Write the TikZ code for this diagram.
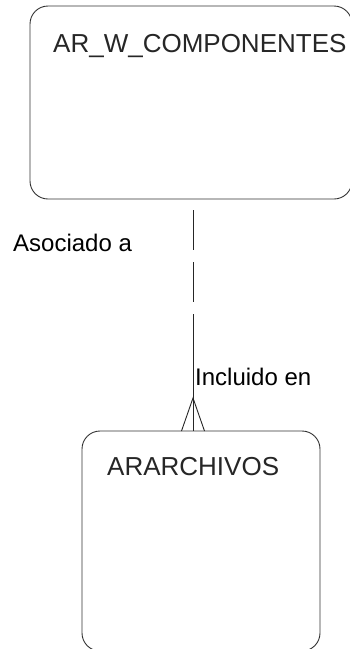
\documentclass[tikz,border=0pt]{standalone}
\usepackage{fontspec}
\setmainfont{Liberation Sans}
\begin{document}
\begin{tikzpicture}[x=1pt,y=-1pt,
  entity/.style={draw=black!80, line width=0.9pt, rounded corners=18pt, inner sep=0pt},
  title/.style={anchor=base west, inner sep=0pt, font=\fontsize{26}{30}\selectfont, text=black!85},
  rel/.style={anchor=base west, inner sep=0pt, font=\fontsize{24}{28}\selectfont, text=black},
  conn/.style={draw=black!85, line width=0.9pt}]
\useasboundingbox (0,0) rectangle (350,649);
\node[entity, minimum width=322pt, minimum height=193pt] (comp) at (191,102.5) {};
\node[entity, minimum width=238pt, minimum height=220pt] (arch) at (201,541) {};
\node[title] (tcomp) at (53,52) {AR\_W\_COMPONENTES};
\node[title] (tarch) at (107,475) {ARARCHIVOS};
\node[rel] (asoc) at (13,251) {Asociado a};
\node[rel] (incl) at (195,385) {Incluido en};
\coordinate (top) at (193,199);
\coordinate (mid) at (193,314);
\coordinate (apex) at (193,398);
\coordinate (bot) at (193,431);
\coordinate (fl) at (181.5,431);
\coordinate (fr) at (204.5,431);
\draw[conn, dash pattern=on 40pt off 12pt, dash phase=41pt] (top) -- (mid);
\draw[conn] (mid) -- (bot);
\draw[conn] (fl) -- (apex) -- (fr);
\end{tikzpicture}
\end{document}
